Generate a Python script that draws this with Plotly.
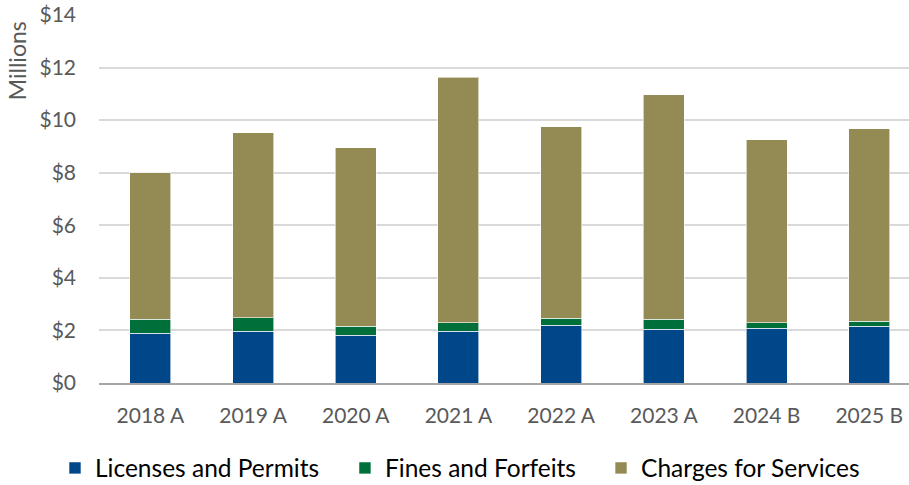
import plotly.graph_objects as go

years = ["2018 A", "2019 A", "2020 A", "2021 A", "2022 A", "2023 A", "2024 B", "2025 B"]
licenses = [1.90, 1.97, 1.82, 1.96, 2.19, 2.05, 2.08, 2.15]
fines = [0.52, 0.52, 0.33, 0.34, 0.27, 0.37, 0.22, 0.19]
charges = [5.58, 7.03, 6.80, 9.33, 7.29, 8.54, 6.95, 7.33]
y_ticks = [0, 2, 4, 6, 8, 10, 12, 14]
y_labels = ["$" + str(v) for v in y_ticks]

FONT = "Lato"
fig = go.Figure()
series = [
    ("Licenses and Permits", licenses, "#00478A", "legend"),
    ("Fines and Forfeits", fines, "#006F3A", "legend2"),
    ("Charges for Services", charges, "#948A54", "legend3"),
]
for name, vals, col, lg in series:
    fig.add_trace(go.Bar(
        x=years, y=vals, name=name, legend=lg, showlegend=True,
        marker=dict(color=col, line=dict(color="rgba(255,255,255,0.6)", width=1)),
        width=0.4,
    ))

leg_common = dict(orientation="h", xref="container", yref="container",
                  y=0.0351, yanchor="middle", xanchor="left", visible=True,
                  font=dict(size=24.5, color="#000000"), bgcolor="rgba(0,0,0,0)")

fig.update_layout(
    barmode="stack",
    showlegend=True,
    width=909, height=485,
    margin=dict(l=99, r=0, t=15, b=101.5),
    paper_bgcolor="white", plot_bgcolor="white",
    font=dict(family=FONT, size=21, color="#595959"),
    xaxis=dict(
        range=[-0.5, 7.387], showgrid=False, showline=True, automargin=False,
        linecolor="#A6A6A6", linewidth=2, ticks="", ticklabelstandoff=13,
        ticklabeloverflow="allow",
        tickfont=dict(size=21, color="#595959"),
    ),
    yaxis=dict(
        range=[0, 14], tickvals=y_ticks, ticktext=y_labels, automargin=False,
        showgrid=True, gridcolor="#D9D9D9", gridwidth=1.5, zeroline=False,
        ticks="", ticklabelstandoff=22, showline=False,
        ticklabeloverflow="allow",
        tickfont=dict(size=21, color="#595959"),
    ),
    legend=dict(x=0.0605, **leg_common),
    legend2=dict(x=0.3795, **leg_common),
    legend3=dict(x=0.6612, **leg_common),
    annotations=[dict(
        text="Millions", textangle=-90, xref="paper", yref="paper",
        x=-0.101, xanchor="center", y=0.875, yanchor="middle", showarrow=False,
        font=dict(size=23, color="#595959"),
    )],
)

fig.write_html("out.html", config={"displayModeBar": False},
               post_script="document.body.style.margin='0';")
